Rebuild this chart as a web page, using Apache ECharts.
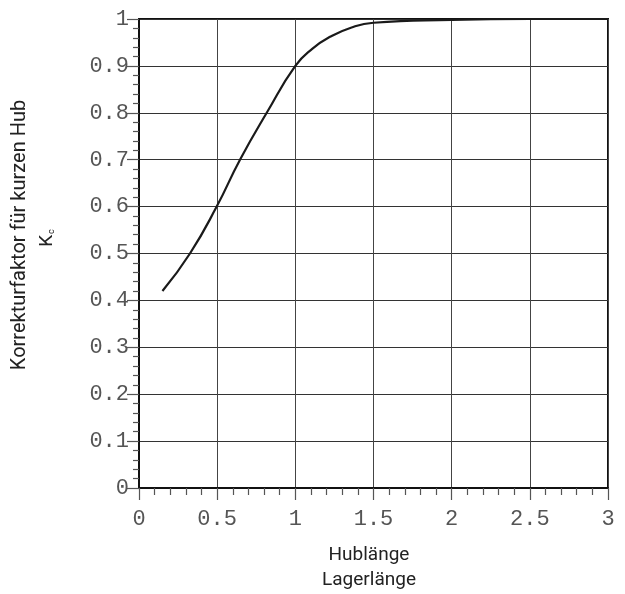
<!DOCTYPE html>
<html>
<head>
<meta charset="utf-8">
<script src="https://cdn.jsdelivr.net/npm/echarts@6/dist/echarts.min.js"></script>
<style>
html,body{margin:0;padding:0;background:#fff;}
#chart{width:625px;height:594px;}
</style>
</head>
<body>
<div id="chart"></div>
<script>
// Data
var xValues = [0.15, 0.326, 0.497, 0.646, 0.817, 1.0, 1.11, 1.222, 1.36, 1.5, 2.0, 2.5, 3.0];
var kcValues = [0.42, 0.5, 0.6, 0.7, 0.8, 0.9, 0.937, 0.962, 0.982, 0.992, 0.998, 1.0, 1.0];
var xTickLabels = ['0', '0.5', '1', '1.5', '2', '2.5', '3'];
var yTickLabels = ['0', '0.1', '0.2', '0.3', '0.4', '0.5', '0.6', '0.7', '0.8', '0.9', '1'];
var yTitle = 'Korrekturfaktor für kurzen Hub';
var xTitleTop = 'Hublänge';
var xTitleBottom = 'Lagerlänge';

var seriesData = xValues.map(function (x, i) { return [x, kcValues[i]]; });

function fmt(list, step) {
  return function (v) {
    var idx = Math.round(v / step);
    return list[idx] !== undefined ? list[idx] : '';
  };
}

var chart = echarts.init(document.getElementById('chart'), null, {renderer: 'canvas'});
var labelStyle = {
  fontFamily: '"Liberation Mono", "Courier New", monospace',
  fontSize: 22,
  color: '#555'
};
var titleFont = 'Roboto, "Liberation Sans", sans-serif';
chart.setOption({
  backgroundColor: '#fff',
  animation: false,
  grid: {
    left: 139, top: 19, width: 469, height: 469,
    show: true, borderColor: '#111', borderWidth: 2, backgroundColor: 'transparent'
  },
  xAxis: {
    type: 'value', min: 0, max: 3, interval: 0.5,
    axisLine: {show: true, lineStyle: {color: '#111', width: 2}},
    axisTick: {show: true, inside: false, length: 12, lineStyle: {color: '#555', width: 1.2}},
    minorTick: {show: true, splitNumber: 5, length: 7, lineStyle: {color: '#555', width: 1.2}},
    splitLine: {show: true, lineStyle: {color: '#444', width: 1}},
    axisLabel: Object.assign({margin: 20, formatter: fmt(xTickLabels, 0.5)}, labelStyle)
  },
  yAxis: {
    type: 'value', min: 0, max: 1, interval: 0.1,
    axisLine: {show: true, lineStyle: {color: '#111', width: 2}},
    axisTick: {show: true, inside: false, length: 12, lineStyle: {color: '#555', width: 1.2}},
    minorTick: {show: true, splitNumber: 5, length: 6, lineStyle: {color: '#555', width: 1.2}},
    splitLine: {show: true, lineStyle: {color: '#333', width: 1}},
    axisLabel: Object.assign({margin: 10, formatter: fmt(yTickLabels, 0.1)}, labelStyle)
  },
  series: [{
    type: 'line',
    data: seriesData,
    smooth: 0.5,
    showSymbol: false,
    symbol: 'none',
    lineStyle: {color: '#1a1a1a', width: 2.2},
    clip: true
  }],
  graphic: [
    {
      type: 'text', x: 20, y: 235, rotation: Math.PI / 2,
      style: {text: yTitle, font: '20px ' + titleFont, fill: '#222', align: 'center', verticalAlign: 'middle'}
    },
    {
      type: 'text', x: 47, y: 238, rotation: Math.PI / 2,
      style: {
        text: '{k|K}{c|c}',
        align: 'center', verticalAlign: 'middle',
        rich: {
          k: {font: '19px ' + titleFont, fill: '#222'},
          c: {font: '9px ' + titleFont, fill: '#222', padding: [10, 0, 0, 1]}
        }
      }
    },
    {
      type: 'text', x: 369, y: 555,
      style: {text: xTitleTop, font: '19px ' + titleFont, fill: '#222', align: 'center', verticalAlign: 'middle'}
    },
    {
      type: 'text', x: 369, y: 580,
      style: {text: xTitleBottom, font: '19px ' + titleFont, fill: '#222', align: 'center', verticalAlign: 'middle'}
    }
  ]
});
</script>
</body>
</html>
